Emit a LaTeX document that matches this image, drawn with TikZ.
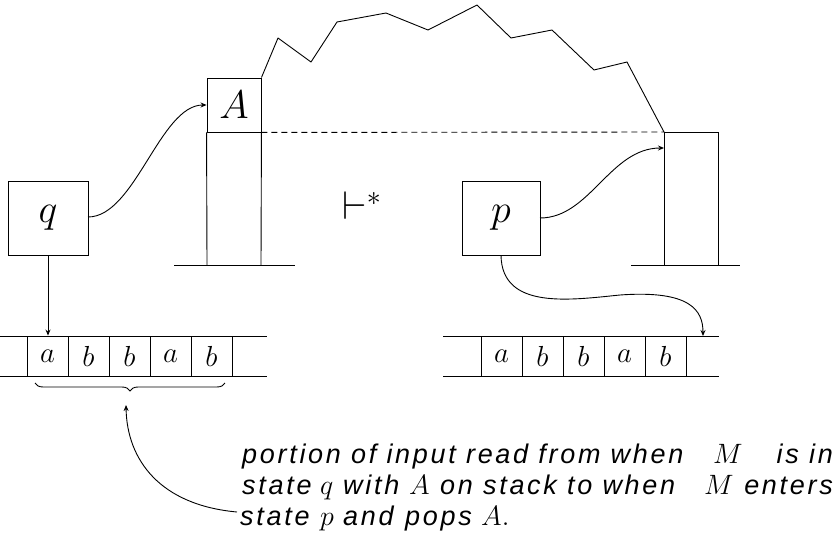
\RequirePackage{fix-cm}
\documentclass[tikz,border=0pt]{standalone}
\usepackage{fontspec}
\setmainfont{Liberation Sans}[LetterSpace=10]
\usetikzlibrary{arrows.meta,decorations.pathreplacing}
\tikzset{
  ln/.style={line width=0.9pt},
  statebox/.style={draw,ln,inner sep=0pt,font=\fontsize{40}{48}\selectfont},
  cell/.style={draw,ln,inner sep=0pt,minimum width=41pt,minimum height=40pt,font=\fontsize{29}{34}\selectfont},
  arr/.style={ln,-{Stealth[length=6pt,width=5pt]}},
  caption/.style={anchor=base west,inner sep=0pt,font=\fontsize{27}{32}\selectfont\itshape},
  captionr/.style={caption,anchor=base east},
  capmath/.style={anchor=base west,inner sep=0pt,font=\fontsize{28}{32}\selectfont}
}
\begin{document}
\begin{tikzpicture}[x=1pt,y=-1pt]
\useasboundingbox (0,0) rectangle (836,535);
% state boxes
\node[statebox,minimum width=80pt,minimum height=74pt] (q) at (48,218) {$q$};
\node[statebox,minimum width=78pt,minimum height=74pt] (p) at (501,218) {$p$};
% left stack
\node[statebox,minimum width=54pt,minimum height=54pt] (A) at (234,105) {$A$};
\coordinate (ls1) at (207,265);
\coordinate (ls2) at (261,265);
\draw[ln] (A.south west) -- (ls1);
\draw[ln] (A.south east) -- (ls2);
\coordinate (lb1) at (174,265);
\coordinate (lb2) at (295,265);
\draw[ln] (lb1) -- (lb2);
% right stack
\coordinate (rt1) at (664,132);
\coordinate (rt2) at (718,132);
\coordinate (rs1) at (664,265);
\coordinate (rs2) at (718,265);
\draw[ln] (rs1) -- (rt1) -- (rt2) -- (rs2);
\coordinate (rb1) at (631,265);
\coordinate (rb2) at (740,265);
\draw[ln] (rb1) -- (rb2);
% dashed line
\draw[ln,dash pattern=on 6pt off 4pt] (A.south east) -- (rt1);
% zigzag
\draw[ln,line join=round] (A.north east) -- (278,38) -- (311,62) -- (337,22) -- (386,13) -- (428,30)
  -- (477,5) -- (511,38) -- (552,30) -- (594,70) -- (627,62) -- (rt1);
% turnstile
\node[inner sep=0pt,font=\fontsize{40}{48}\selectfont] (ts) at (362,206) {$\vdash^*$};
% left tape
\coordinate (lt1) at (0,336);
\coordinate (lt2) at (267,336);
\coordinate (lt3) at (0,376);
\coordinate (lt4) at (267,376);
\draw[ln] (lt1) -- (lt2);
\draw[ln] (lt3) -- (lt4);
\node[cell] (l1) at (47.5,356) {$a$};
\node[cell] (l2) at (88.5,356) {$b$};
\node[cell] (l3) at (129.5,356) {$b$};
\node[cell] (l4) at (170.5,356) {$a$};
\node[cell] (l5) at (211.5,356) {$b$};
% right tape
\coordinate (rtp1) at (443,336);
\coordinate (rtp2) at (719,336);
\coordinate (rtp3) at (443,376);
\coordinate (rtp4) at (719,376);
\draw[ln] (rtp1) -- (rtp2);
\draw[ln] (rtp3) -- (rtp4);
\node[cell] (r1) at (501.5,356) {$a$};
\node[cell] (r2) at (542.5,356) {$b$};
\node[cell] (r3) at (583.5,356) {$b$};
\node[cell] (r4) at (624.5,356) {$a$};
\node[cell] (r5) at (665.5,356) {$b$};
\coordinate (r6a) at (686,336);
\coordinate (r6b) at (686,376);
\draw[ln] (r6a) -- (r6b);
% brace
\coordinate (bl) at (35,383);
\coordinate (br) at (225,383);
\draw[ln,decorate,decoration={brace,mirror,amplitude=8pt}] (bl) -- (br);
% arrows
\draw[arr] (q.south) -- (q.south |- l1.north);
\coordinate (qa) at (88,217);
\draw[arr] (qa) .. controls (135,217) and (160,105) .. (A.west);
\coordinate (pa) at (540,218);
\coordinate (rsa) at (664,148);
\draw[arr] (pa) .. controls (590,218) and (610,148) .. (rsa);
\coordinate (tpe) at (703,336);
\draw[arr] (p.south) .. controls (502,310) and (570,300) .. (620,295) .. controls (690,290) and (703,310) .. (tpe);
% caption line 1
\node[caption] (c1a) at (242,463) {portion of input read from when};
\node[capmath] (c1b) at (713,463) {$M$};
\node[captionr] (c1c) at (833,463) {is in};
% caption line 2
\node[caption] (c2a) at (242,494) {state};
\node[capmath] (c2b) at (320,494) {$q$};
\node[caption] (c2c) at (343,494) {with};
\node[capmath] (c2d) at (409,494) {$A$};
\node[caption] (c2e) at (440,494) {on stack to when};
\node[capmath] (c2f) at (704,494) {$M$};
\node[captionr] (c2g) at (833,494) {enters};
% caption line 3
\node[caption] (c3a) at (240,525) {state};
\node[capmath] (c3b) at (320,525) {$p$};
\node[caption] (c3c) at (343,525) {and};
\node[caption] (c3d) at (405,525) {pops};
\node[capmath] (c3e) at (481,525) {$A.$};
\coordinate (ce) at (237,512);
\coordinate (bt) at (126,405);
\draw[arr] (ce) .. controls (160,505) and (127,460) .. (bt);
\end{tikzpicture}
\end{document}
